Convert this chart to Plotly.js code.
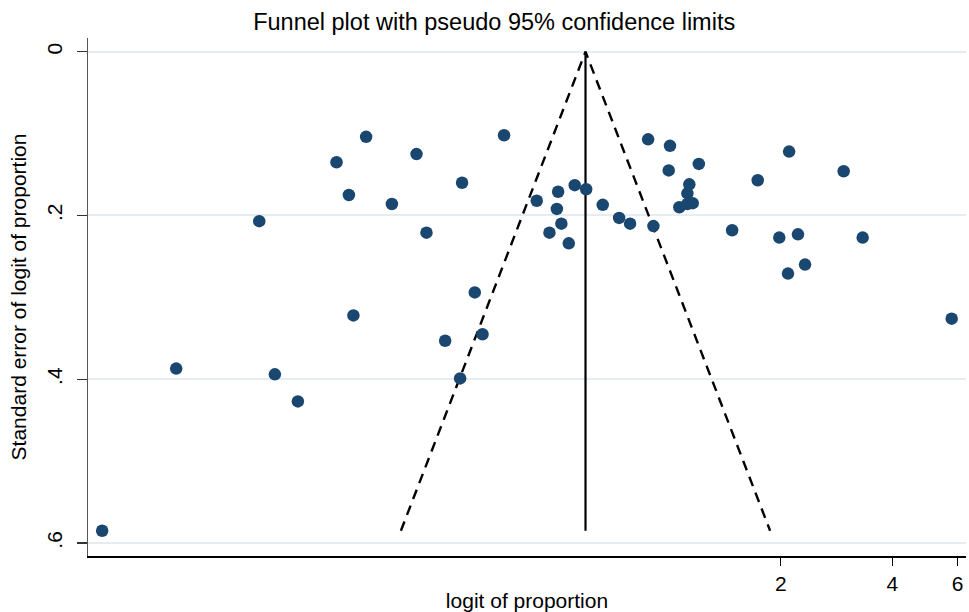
<!DOCTYPE html>
<html>
<head>
<meta charset="utf-8">
<script src="https://cdn.plot.ly/plotly-3.0.1.min.js"></script>
<style>html,body{margin:0;padding:0;background:#fff;}#chart{width:969px;height:612px;}</style>
</head>
<body>
<div id="chart"></div>
<script>
// Study estimates: logit of proportion and its standard error
const logitP = [-3.523, -3.063, -2.547, -2.450, -2.307, -2.067, -1.990, -1.962, -1.883, -1.723,
  -1.570, -1.508, -1.392, -1.299, -1.287, -1.208, -1.160, -1.026, -0.823, -0.744,
  -0.698, -0.690, -0.670, -0.624, -0.587, -0.516, -0.413, -0.311, -0.243, -0.131,
  -0.098, -0.003, 0.005, 0.063, 0.113, 0.113, 0.125, 0.146, 0.184, 0.391,
  0.550, 0.684, 0.738, 0.745, 0.800, 0.844, 1.084, 1.202, 1.755];
const seLogitP = [0.585, 0.387, 0.207, 0.394, 0.427, 0.135, 0.175, 0.322, 0.104, 0.186,
  0.125, 0.221, 0.353, 0.399, 0.160, 0.294, 0.345, 0.102, 0.182, 0.221,
  0.192, 0.171, 0.210, 0.234, 0.163, 0.168, 0.187, 0.203, 0.210, 0.107,
  0.213, 0.145, 0.115, 0.190, 0.173, 0.186, 0.162, 0.185, 0.137, 0.218,
  0.157, 0.227, 0.271, 0.122, 0.223, 0.260, 0.146, 0.227, 0.326];

// Pooled estimate line and pseudo 95% confidence limits
const pooledX = [-0.52, -0.52];
const pooledY = [0, 0.585];
const limitsX = [-1.667, -0.52, 0.627];
const limitsY = [0.585, 0, 0.585];

// Axis ticks
const xTickVals = [0.693, 1.386, 1.792];
const xTickText = ["2", "4", "6"];
const yTickVals = [0, 0.2, 0.4, 0.6];
const yTickText = ["0", ".2", ".4", ".6"];

const font = "Liberation Sans, Arial, sans-serif";

const traces = [
  {x: limitsX, y: limitsY, mode: "lines", type: "scatter",
   line: {color: "#000", width: 2.4, dash: "10px,7px"}, hoverinfo: "skip", showlegend: false},
  {x: pooledX, y: pooledY, mode: "lines", type: "scatter",
   line: {color: "#000", width: 2.2}, hoverinfo: "skip", showlegend: false},
  {x: logitP, y: seLogitP, mode: "markers", type: "scatter",
   marker: {color: "#1a476f", size: 12.5, line: {width: 0}}, showlegend: false}
];

const layout = {
  width: 969, height: 612,
  paper_bgcolor: "#fff", plot_bgcolor: "#fff",
  font: {family: font, color: "#000"},
  margin: {l: 88, r: 3, t: 38, b: 56},
  title: {text: "Funnel plot with pseudo 95% confidence limits",
          font: {family: font, size: 23.5, color: "#000"},
          xref: "container", x: 0.51, xanchor: "center",
          yref: "container", y: 0.964, yanchor: "middle"},
  xaxis: {
    range: [-3.611, 1.844], zeroline: false, showgrid: false,
    showline: true, linecolor: "#000", linewidth: 1.5,
    tickmode: "array", tickvals: xTickVals, ticktext: xTickText,
    ticks: "outside", ticklen: 8, tickcolor: "#000", tickwidth: 1.2,
    tickfont: {family: font, size: 21, color: "#000"},
    title: {text: "logit of proportion", font: {family: font, size: 21, color: "#000"}, standoff: 5}
  },
  yaxis: {
    range: [0.6158, -0.0167], zeroline: false,
    showgrid: true, gridcolor: "#e4edf0", gridwidth: 2,
    showline: true, linecolor: "#555", linewidth: 1.5,
    tickmode: "array", tickvals: yTickVals, ticktext: yTickText,
    ticks: "outside", ticklen: 10, tickcolor: "#333", tickwidth: 1.2,
    tickangle: -90, ticklabelstandoff: 6,
    tickfont: {family: font, size: 21, color: "#000"},
    title: {text: "Standard error of logit of proportion", font: {family: font, size: 21, color: "#000"}, standoff: 10}
  }
};

Plotly.newPlot("chart", traces, layout, {displayModeBar: false, staticPlot: true});
</script>
</body>
</html>
